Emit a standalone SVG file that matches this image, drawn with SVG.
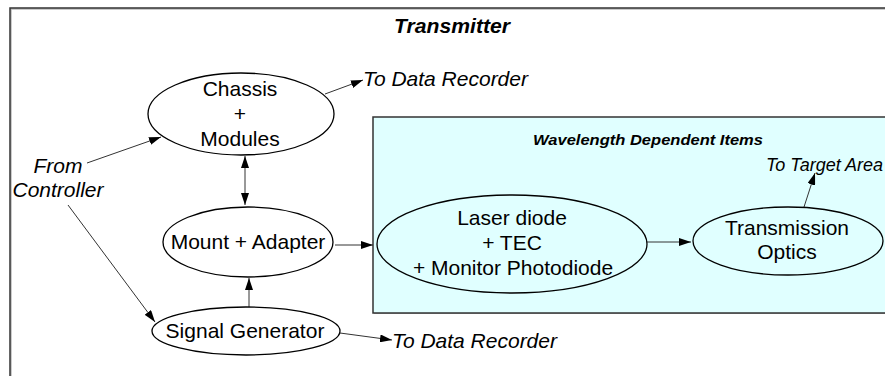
<svg xmlns="http://www.w3.org/2000/svg" width="885" height="376" viewBox="0 0 885 376">
<defs>
<marker id="ah" viewBox="0 0 12 8" refX="12" refY="4" markerWidth="12" markerHeight="8" markerUnits="userSpaceOnUse" orient="auto-start-reverse">
<path d="M0,0 L12,4 L0,8 z" fill="#000"/>
</marker>
<style>
.t{font-family:"Liberation Sans",Arial,sans-serif;font-size:21px;fill:#000;text-anchor:middle}
.i{font-family:"Liberation Sans",Arial,sans-serif;font-size:21px;font-style:italic;fill:#000}
.n{fill:#fff;stroke:#000;stroke-width:1.3}
.c{stroke:#333;stroke-width:1;fill:none;marker-end:url(#ah)}
</style>
</defs>
<rect width="885" height="376" fill="#fff"/>
<g id="frame">
<rect x="11" y="9" width="900" height="400" fill="none" stroke="#bbb" stroke-width="1.5"/>
<rect x="10" y="8" width="900" height="400" fill="none" stroke="#333" stroke-width="1.5"/>
<text x="452" y="33" font-family="Liberation Sans, Arial, sans-serif" font-size="20" font-weight="bold" font-style="italic" text-anchor="middle" textLength="116" lengthAdjust="spacingAndGlyphs">Transmitter</text>
</g>
<g id="wavelength-group">
<rect x="374" y="118" width="540" height="196" fill="#bbb"/>
<rect x="373" y="117" width="540" height="196" fill="#e0ffff" stroke="#333" stroke-width="1.5"/>
<text x="648" y="145" font-family="Liberation Sans, Arial, sans-serif" font-size="15.5" font-weight="bold" font-style="italic" text-anchor="middle" textLength="230" lengthAdjust="spacingAndGlyphs">Wavelength Dependent Items</text>
</g>
<g id="connectors">
<line class="c" x1="87" y1="163" x2="161" y2="137"/>
<line class="c" x1="68" y1="205" x2="155" y2="322"/>
<line class="c" x1="325" y1="94" x2="363" y2="80"/>
<line class="c" x1="245" y1="156" x2="245" y2="205" style="marker-start:url(#ah)"/>
<line class="c" x1="249" y1="309" x2="249" y2="278"/>
<line class="c" x1="335" y1="245" x2="373" y2="245"/>
<line class="c" x1="340" y1="333" x2="392" y2="340"/>
<line class="c" x1="647" y1="242" x2="691" y2="242"/>
<line class="c" x1="804" y1="207" x2="815" y2="173"/>
</g>
<g id="from-controller">
<text class="i" x="58" y="173" text-anchor="middle">From</text>
<text class="i" x="58" y="197" text-anchor="middle">Controller</text>
</g>
<g id="to-data-recorder-top"><text class="i" x="363" y="86">To Data Recorder</text></g>
<g id="to-data-recorder-bottom"><text class="i" x="392" y="348">To Data Recorder</text></g>
<g id="to-target-area"><text class="i" x="766" y="171" style="font-size:18px">To Target Area</text></g>
<g id="chassis">
<ellipse class="n" cx="241" cy="114" rx="93" ry="41"/>
<text class="t" x="240" y="96">Chassis</text>
<text class="t" x="240" y="121">+</text>
<text class="t" x="240" y="146">Modules</text>
</g>
<g id="mount">
<ellipse class="n" cx="248" cy="242" rx="85" ry="35"/>
<text class="t" x="248" y="249">Mount + Adapter</text>
</g>
<g id="signal-generator">
<ellipse class="n" cx="246" cy="331" rx="94" ry="24"/>
<text class="t" x="245" y="338">Signal Generator</text>
</g>
<g id="laser">
<ellipse cx="512" cy="244" rx="135" ry="49" fill="#e0ffff" stroke="#000" stroke-width="1.3"/>
<text class="t" x="512" y="225">Laser diode</text>
<text class="t" x="512" y="250">+ TEC</text>
<text class="t" x="513" y="275">+ Monitor Photodiode</text>
</g>
<g id="optics">
<ellipse cx="788" cy="241" rx="95" ry="34" fill="#e0ffff" stroke="#000" stroke-width="1.3"/>
<text class="t" x="787" y="235">Transmission</text>
<text class="t" x="787" y="259">Optics</text>
</g>
</svg>
